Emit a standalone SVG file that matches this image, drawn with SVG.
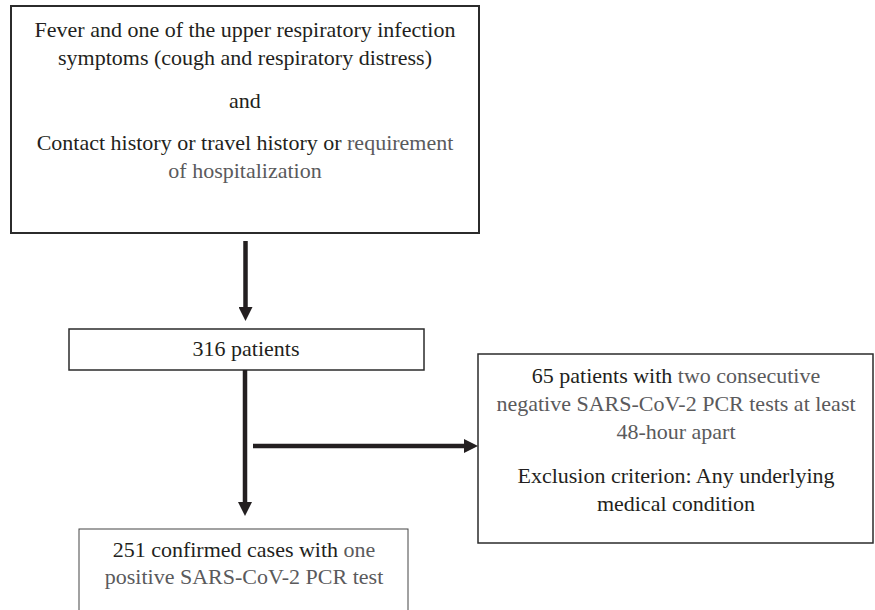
<svg xmlns="http://www.w3.org/2000/svg" width="875" height="610" viewBox="0 0 875 610">
<style>
  .box { fill: #ffffff; stroke: #2b2b2b; }
  .t { font-family: "Liberation Serif", "Times New Roman", serif; font-size: 22px; fill: #231f20; text-anchor: middle; }
  .g { fill: #5a5a5c; }
  .conn { stroke: #231f20; stroke-width: 4.5; fill: none; }
</style>
<defs>
  <marker id="ah" viewBox="0 0 14 14" refX="0" refY="7" markerWidth="14" markerHeight="14" markerUnits="userSpaceOnUse" orient="auto">
    <path d="M0,0 L14,7 L0,14 Z" fill="#231f20"/>
  </marker>
</defs>
<rect width="875" height="610" fill="#ffffff"/>

<g id="criteria">
  <rect class="box" x="11" y="6" width="468" height="227" stroke-width="2"/>
  <text class="t" x="245" y="37">Fever and one of the upper respiratory infection</text>
  <text class="t" x="245" y="65">symptoms (cough and respiratory distress)</text>
  <text class="t" x="245" y="108">and</text>
  <text class="t" x="245" y="150">Contact history or travel history or <tspan class="g">requirement</tspan></text>
  <text class="t" x="245" y="178"><tspan class="g">of hospitalization</tspan></text>
</g>

<g id="patients">
  <rect class="box" x="69" y="329" width="355" height="41" stroke-width="1.5"/>
  <text class="t" x="246" y="356">316 patients</text>
</g>

<g id="excluded">
  <rect class="box" x="478" y="354" width="395" height="189" stroke-width="1.5"/>
  <text class="t" x="676" y="383">65 patients with <tspan class="g">two consecutive</tspan></text>
  <text class="t" x="676" y="411"><tspan class="g">negative SARS-CoV-2 PCR tests at least</tspan></text>
  <text class="t" x="676" y="439"><tspan class="g">48-hour apart</tspan></text>
  <text class="t" x="676" y="483">Exclusion criterion: Any underlying</text>
  <text class="t" x="676" y="511">medical condition</text>
</g>

<g id="confirmed">
  <rect x="79" y="529" width="329" height="100" fill="#ffffff" stroke="#444444" stroke-width="1"/>
  <text class="t" x="244" y="557">251 confirmed cases with <tspan class="g">one</tspan></text>
  <text class="t" x="244" y="584"><tspan class="g">positive SARS-CoV-2 PCR test</tspan></text>
</g>

<g id="connectors">
  <line class="conn" x1="245.5" y1="241" x2="245.5" y2="307" marker-end="url(#ah)"/>
  <line class="conn" x1="245" y1="370" x2="245" y2="502" marker-end="url(#ah)"/>
  <line class="conn" x1="253" y1="446" x2="464" y2="446" marker-end="url(#ah)"/>
</g>
</svg>
